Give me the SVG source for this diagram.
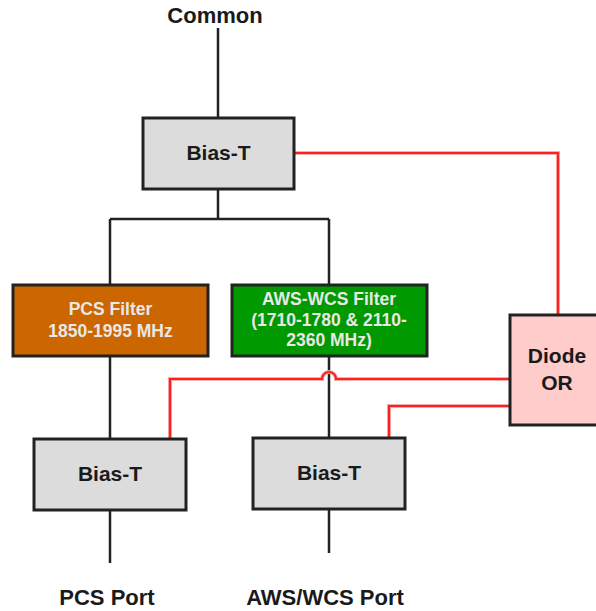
<svg xmlns="http://www.w3.org/2000/svg" width="596" height="611" viewBox="0 0 596 611">
<style>
.box{stroke:#222;stroke-width:3}
.bt{fill:#dcdcdc}
.w{stroke:#222;stroke-width:2.5;fill:none}
.r{stroke:#ff2020;stroke-width:2.2;fill:none}
.rs{stroke:#f0b0b0;stroke-width:4;fill:none}
text{font-family:"Liberation Sans",Arial,sans-serif;font-weight:bold;text-anchor:middle}
.lbl{font-size:21px;fill:#1a1a1a}
.big{font-size:22px}
.ft{font-size:17.5px;fill:#e8e8e8}
</style>
<rect width="596" height="611" fill="#fff"/>
<g id="connectors">
<path class="w" d="M218 28V118M218 189V219M110 219H329M110 219V285M329 219V285M110 356V439M329 356V438M110 510V563M329 509V553"/>
<path class="rs" d="M294 153H558V315M510 379H336A7 7 0 0 0 322 379H170V439M510 406H389V438"/>
<path class="r" d="M294 153H558V315M510 379H336A7 7 0 0 0 322 379H170V439M510 406H389V438"/>
</g>
<g id="common"><text class="lbl big" x="215" y="23">Common</text></g>
<g id="biasT-top"><rect class="box bt" x="143" y="118" width="151" height="71"/><text class="lbl" x="218.5" y="160">Bias-T</text></g>
<g id="pcs-filter"><rect class="box" fill="#cc6600" x="13" y="285" width="195" height="71"/><text class="ft" x="110.5" y="315">PCS Filter</text><text class="ft" x="110.5" y="337">1850-1995 MHz</text></g>
<g id="aws-filter"><rect class="box" fill="#009900" x="232" y="285" width="195" height="71"/><text class="ft" x="329" y="305">AWS-WCS Filter</text><text class="ft" x="329" y="326">(1710-1780 &amp; 2110-</text><text class="ft" x="329" y="346">2360 MHz)</text></g>
<g id="diode-or"><rect class="box" fill="#ffcccc" x="510" y="315" width="100" height="110"/><text class="lbl" x="557" y="363">Diode</text><text class="lbl" x="557" y="390">OR</text></g>
<g id="biasT-pcs"><rect class="box bt" x="34" y="439" width="152" height="71"/><text class="lbl" x="110" y="481">Bias-T</text></g>
<g id="biasT-aws"><rect class="box bt" x="253" y="438" width="152" height="71"/><text class="lbl" x="329" y="480">Bias-T</text></g>
<g id="pcs-port"><text class="lbl big" x="107" y="605">PCS Port</text></g>
<g id="aws-port"><text class="lbl big" x="325" y="605">AWS/WCS Port</text></g>
</svg>
